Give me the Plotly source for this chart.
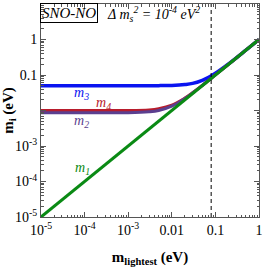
import plotly.graph_objects as go

# data (eV)
m_lightest = [1e-5, 1e-4, 1e-3, 3e-3, 5e-3, 0.01, 0.02, 0.03, 0.05, 0.07, 0.1, 0.2, 0.5, 1.0]
m3_vals = [0.050, 0.050, 0.050, 0.0501, 0.0502, 0.051, 0.054, 0.058, 0.071, 0.086, 0.112, 0.206, 0.502, 1.0]
m4_vals = [0.0100, 0.0100, 0.0100, 0.0104, 0.0112, 0.0141, 0.0224, 0.0316, 0.0510, 0.0707, 0.1005, 0.2002, 0.5001, 1.0]
m2_vals = [0.0087, 0.0087, 0.0087, 0.0092, 0.0100, 0.0132, 0.0218, 0.0312, 0.0507, 0.0705, 0.1004, 0.2002, 0.5001, 1.0]
m1_vals = [1e-5, 1e-4, 1e-3, 3e-3, 5e-3, 0.01, 0.02, 0.03, 0.05, 0.07, 0.1, 0.2, 0.5, 1.0]
m_bound = 0.08

x_tickvals = [1e-5, 1e-4, 1e-3, 0.01, 0.1, 1]
x_ticktext = ["10<sup>-5</sup>", "10<sup>-4</sup>", "10<sup>-3</sup>", "0.01", "0.1", "1"]
y_tickvals = [1e-5, 1e-4, 1e-3, 0.01, 0.1, 1, 10]
y_ticktext = ["10<sup>-5</sup>", "10<sup>-4</sup>", "10<sup>-3</sup>", "", "0.1", "1", "10"]

minor_x = [m * 10**e for e in range(-5, 0) for m in range(2, 10)]
minor_y = [m * 10**e for e in range(-5, 1) for m in range(2, 10)]

fig = go.Figure()
fig.add_trace(go.Scatter(x=m_lightest, y=m3_vals, mode="lines", line=dict(color="#0a14f0", width=3.5, shape="spline")))
fig.add_trace(go.Scatter(x=m_lightest, y=m4_vals, mode="lines", line=dict(color="#b81c2c", width=3, shape="spline")))
fig.add_trace(go.Scatter(x=m_lightest, y=m2_vals, mode="lines", line=dict(color="#5b3f8f", width=3, shape="spline")))
fig.add_trace(go.Scatter(x=m_lightest, y=m1_vals, mode="lines", line=dict(color="#0a8a14", width=3)))
fig.add_trace(go.Scatter(x=[m_bound, m_bound], y=[1e-5, 10], mode="lines", line=dict(color="black", width=1, dash="4px,3px")))

font = "Liberation Serif"
axis_common = dict(type="log", showline=True, linecolor="#555", linewidth=1, mirror="ticks",
                   ticks="inside", ticklen=5, tickcolor="#555", showgrid=False, zeroline=False,
                   tickfont=dict(family=font, size=14, color="black"))
fig.update_xaxes(range=[-5, 0], tickmode="array", tickvals=x_tickvals, ticktext=x_ticktext,
                 minor=dict(tickmode="array", tickvals=minor_x, ticks="inside", ticklen=2.5, tickcolor="#555"),
                 title=dict(text="<b>m<sub>lightest</sub> (eV)</b>", font=dict(family=font, size=15, color="black"), standoff=16),
                 **axis_common)
fig.update_yaxes(range=[-5, 1], tickmode="array", tickvals=y_tickvals, ticktext=y_ticktext,
                 minor=dict(tickmode="array", tickvals=minor_y, ticks="inside", ticklen=2.5, tickcolor="#555"),
                 title=dict(text="<b>m<sub>i</sub> (eV)</b>", font=dict(family=font, size=15, color="black"), standoff=2),
                 **axis_common)

L, R, T, B = 39, 4, 3, 39
W, H = 266, 267


def px(xp, yp):
    return (xp - L) / (W - L - R), 1 - (yp - T) / (H - T - B)


ann_font = dict(family=font, size=14)
fig.add_annotation(x=-4.08, y=-1.53, xref="x", yref="y", text="<i>m<sub>3</sub></i>", showarrow=False, font=dict(color="#0a14f0", **ann_font))
fig.add_annotation(x=-3.57, y=-1.80, xref="x", yref="y", text="<i>m<sub>4</sub></i>", showarrow=False, font=dict(color="#b81c2c", **ann_font))
fig.add_annotation(x=-4.08, y=-2.31, xref="x", yref="y", text="<i>m<sub>2</sub></i>", showarrow=False, font=dict(color="#5b3f8f", **ann_font))
fig.add_annotation(x=-4.04, y=-3.64, xref="x", yref="y", text="<i>m<sub>1</sub></i>", showarrow=False, font=dict(color="#0a8a14", **ann_font))
ax, ay = px(68, 13)
fig.add_annotation(x=ax, y=ay, xref="paper", yref="paper", xanchor="center", yanchor="middle", text="<i>SNO-NO</i>", showarrow=False,
                   font=dict(family=font, size=15, color="black"), bordercolor="black", borderwidth=1, borderpad=1)
ax, ay = px(154, 14)
fig.add_annotation(x=ax, y=ay, xref="paper", yref="paper", xanchor="center", yanchor="middle",
                   text="<i>Δ m<sub>s</sub><sup>2</sup> = 10<sup>-4</sup> eV<sup>2</sup></i>",
                   showarrow=False, font=dict(family=font, size=14, color="black"))

fig.update_layout(width=W, height=H, margin=dict(l=L, r=R, t=T, b=B), showlegend=False,
                  plot_bgcolor="white", paper_bgcolor="white")
fig.write_html("out.html", config={"displayModeBar": False},
               post_script="document.body.style.margin='0';document.body.style.overflow='hidden';")
